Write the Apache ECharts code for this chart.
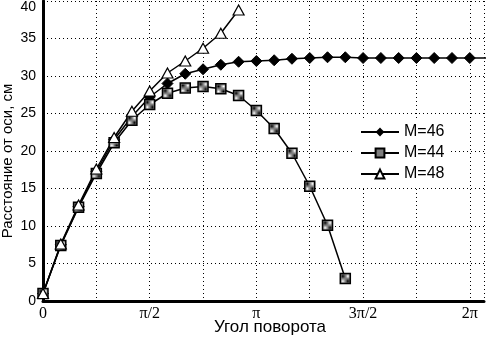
<!DOCTYPE html>
<html>
<head>
    <meta charset="utf-8" />
    <title>Расстояние от оси</title>
    <script src="https://cdn.jsdelivr.net/npm/echarts@6/dist/echarts.min.js"></script>
    <style>
        html, body { margin: 0; padding: 0; background: #fff; }
    </style>
</head>
<body>
    <div style="width:490px;height:338px;" id="echart"></div>
</body>
</html>
<script>
    // угол в градусах, шаг 15
    var angM46 = [0, 15, 30, 45, 60, 75, 90, 105, 120, 135, 150, 165, 180, 195, 210, 225, 240, 255, 270, 285, 300, 315, 330, 345, 360, 375];
    var valM46 = [1.0, 7.5, 12.6, 17.3, 21.5, 24.6, 27.2, 29.0, 30.3, 30.9, 31.5, 31.9, 32.0, 32.1, 32.3, 32.4, 32.5, 32.5, 32.4, 32.4, 32.4, 32.4, 32.4, 32.4, 32.4, 32.4];
    var angM44 = [0, 15, 30, 45, 60, 75, 90, 105, 120, 135, 150, 165, 180, 195, 210, 225, 240, 255];
    var valM44 = [1.0, 7.4, 12.5, 17.0, 21.1, 24.1, 26.2, 27.7, 28.4, 28.6, 28.3, 27.4, 25.4, 23.0, 19.7, 15.3, 10.1, 3.0];
    var angM48 = [0, 15, 30, 45, 60, 75, 90, 105, 120, 135, 150, 165];
    var valM48 = [1.0, 7.6, 12.8, 17.6, 21.8, 25.3, 28.0, 30.4, 32.0, 33.7, 35.7, 38.8];
    var xTickLabels = { 0: '0', 90: 'π/2', 180: 'π', 270: '3π/2', 360: '2π' };

    function pairs(xs, ys) {
        var out = [];
        for (var i = 0; i < xs.length; i++) out.push([xs[i], ys[i]]);
        return out;
    }

    // штриховка квадратных маркеров
    var cv = document.createElement('canvas');
    cv.width = 2; cv.height = 2;
    var cx = cv.getContext('2d');
    cx.fillStyle = '#fff'; cx.fillRect(0, 0, 2, 2);
    cx.fillStyle = '#000'; cx.fillRect(0, 0, 1, 1); cx.fillRect(1, 1, 1, 1);
    var hatch = { image: cv, repeat: 'repeat' };

    var myChart = echarts.init(document.getElementById('echart'));
    var sans = '"Liberation Sans", Arial, sans-serif';
    var dotted = { color: '#000', width: 1, type: [1, 3] };

    var option = {
        animation: false,
        backgroundColor: '#fff',
        grid: { left: 43, right: 6, top: 1, bottom: 37, containLabel: false, outerBoundsMode: 'none' },
        legend: {
            orient: 'vertical',
            left: 355,
            top: 119,
            padding: [5, 6, 5, 5],
            backgroundColor: '#fff',
            itemWidth: 38,
            itemHeight: 11,
            itemGap: 5,
            textStyle: { fontFamily: sans, fontSize: 16, color: '#000' },
            data: ['M=46', 'M=44', 'M=48']
        },
        xAxis: {
            type: 'value',
            min: 0,
            max: 372,
            interval: 45,
            name: 'Угол поворота',
            nameLocation: 'middle',
            nameGap: 18,
            nameMoveOverlap: false,
            nameTextStyle: { fontFamily: sans, fontSize: 17, color: '#000', padding: [0, 0, 0, 13] },
            axisLine: { lineStyle: { color: '#000', width: 3 } },
            axisTick: { show: false },
            axisLabel: {
                color: '#000',
                fontFamily: '"Liberation Serif", "Times New Roman", serif',
                fontSize: 16,
                margin: 5,
                showMaxLabel: false,
                formatter: function (v) { return xTickLabels[v] !== undefined ? xTickLabels[v] : ''; }
            },
            splitLine: { show: true, lineStyle: dotted }
        },
        yAxis: {
            type: 'value',
            min: 0,
            max: 40,
            interval: 5,
            name: 'Расстояние от оси, см',
            nameLocation: 'middle',
            nameGap: 28,
            nameMoveOverlap: false,
            nameTextStyle: { fontFamily: sans, fontSize: 15, color: '#000', padding: [0, 20, 0, 0] },
            axisLine: { show: true, lineStyle: { color: '#000', width: 3 } },
            axisTick: { show: false },
            axisLabel: {
                color: '#000',
                fontFamily: sans,
                fontSize: 14,
                margin: 7,
                formatter: function (v) { return v === 40 ? '{t|40}' : String(v); },
                rich: { t: { fontFamily: sans, fontSize: 14, color: '#000', padding: [12, 0, 0, 0] } }
            },
            splitLine: { show: true, lineStyle: dotted }
        },
        series: [{
            name: 'M=46',
            type: 'line',
            data: pairs(angM46, valM46),
            symbol: 'diamond',
            symbolSize: [11, 11],
            clip: true,
            lineStyle: { color: '#000', width: 1.5 },
            itemStyle: { color: '#000', borderColor: '#000' }
        }, {
            name: 'M=44',
            type: 'line',
            data: pairs(angM44, valM44),
            symbol: 'rect',
            symbolSize: 10,
            lineStyle: { color: '#000', width: 1.5 },
            itemStyle: { color: hatch, borderColor: '#000', borderWidth: 1.5 }
        }, {
            name: 'M=48',
            type: 'line',
            data: pairs(angM48, valM48),
            symbol: 'triangle',
            symbolSize: [11, 10],
            lineStyle: { color: '#000', width: 1.5 },
            itemStyle: { color: '#fff', borderColor: '#000', borderWidth: 1.2 }
        }]
    };
    myChart.setOption(option);
</script>
